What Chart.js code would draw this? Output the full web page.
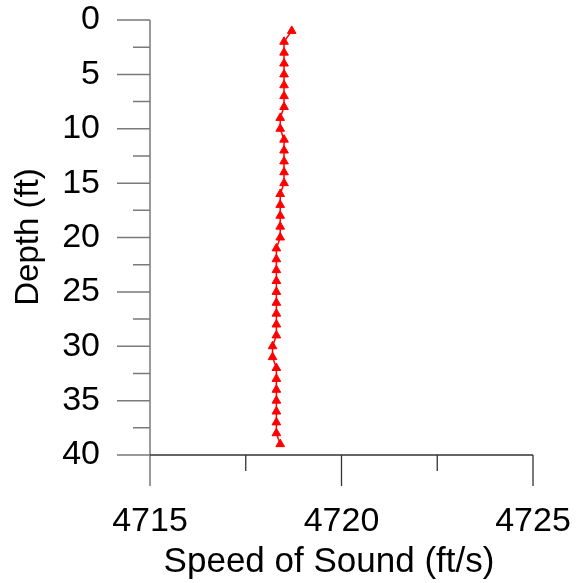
<!DOCTYPE html>
<html>
<head>
<meta charset="utf-8">
<script src="https://cdn.jsdelivr.net/npm/chart.js@4.4.1/dist/chart.umd.min.js"></script>
<style>
    html, body { margin: 0; padding: 0; background: #ffffff; }
    #chart { display: block; }
</style>
</head>
<body>
<canvas id="chart" width="581" height="583"></canvas>
<script>
// Depth profile, one reading per foot
const depths = [1, 2, 3, 4, 5, 6, 7, 8, 9, 10,
    11, 12, 13, 14, 15, 16, 17, 18, 19, 20,
    21, 22, 23, 24, 25, 26, 27, 28, 29, 30,
    31, 32, 33, 34, 35, 36, 37, 38, 39];
const speeds = [4718.7, 4718.5, 4718.5, 4718.5, 4718.5, 4718.5, 4718.5, 4718.5, 4718.4, 4718.4,
    4718.5, 4718.5, 4718.5, 4718.5, 4718.5, 4718.4, 4718.4, 4718.4, 4718.4, 4718.4,
    4718.3, 4718.3, 4718.3, 4718.3, 4718.3, 4718.3, 4718.3, 4718.3, 4718.3, 4718.2,
    4718.2, 4718.3, 4718.3, 4718.3, 4718.3, 4718.3, 4718.3, 4718.3, 4718.4];

const xMajorTicks = [4715, 4720, 4725];
const xMinorTicks = [4717.5, 4722.5];
const yMajorTicks = [0, 5, 10, 15, 20, 25, 30, 35, 40];
const yMinorTicks = [2.5, 7.5, 12.5, 17.5, 22.5, 27.5, 32.5, 37.5];

const xTitle = 'Speed of Sound (ft/s)';
const yTitle = 'Depth (ft)';

const FONT = '"Liberation Sans", Arial, sans-serif';

// keep the plot box fixed: the tick padding would otherwise shrink it
function fixPadding(scale) {
    scale.paddingTop = 0;
    scale.paddingBottom = 0;
    scale.paddingLeft = 0;
    scale.paddingRight = 0;
}

// Axis lines, tick marks and titles drawn against the chart's own scales
const axesPlugin = {
    id: 'axesPlugin',
    afterDraw(chart) {
        const ctx = chart.ctx;
        const xs = chart.scales.x;
        const ys = chart.scales.y;
        const left = xs.getPixelForValue(xMajorTicks[0]);
        const bottom = ys.getPixelForValue(yMajorTicks[yMajorTicks.length - 1]);

        ctx.save();

        // y axis and its ticks
        ctx.strokeStyle = '#7a7a7a';
        ctx.lineWidth = 1.5;
        ctx.beginPath();
        ctx.moveTo(left, ys.getPixelForValue(0));
        ctx.lineTo(left, bottom + 31);
        yMajorTicks.forEach(v => {
            const p = ys.getPixelForValue(v);
            ctx.moveTo(left - 33, p);
            ctx.lineTo(left, p);
        });
        yMinorTicks.forEach(v => {
            const p = ys.getPixelForValue(v);
            ctx.moveTo(left - 17, p);
            ctx.lineTo(left, p);
        });
        ctx.stroke();

        // x axis and its ticks
        ctx.strokeStyle = '#333333';
        ctx.lineWidth = 1.3;
        ctx.beginPath();
        ctx.moveTo(left, bottom);
        ctx.lineTo(xs.getPixelForValue(xMajorTicks[xMajorTicks.length - 1]), bottom);
        xMajorTicks.slice(1).forEach(v => {
            const p = xs.getPixelForValue(v);
            ctx.moveTo(p, bottom);
            ctx.lineTo(p, bottom + 31);
        });
        xMinorTicks.forEach(v => {
            const p = xs.getPixelForValue(v);
            ctx.moveTo(p, bottom);
            ctx.lineTo(p, bottom + 16);
        });
        ctx.stroke();

        // titles
        ctx.fillStyle = '#000000';
        ctx.textAlign = 'center';
        ctx.textBaseline = 'alphabetic';
        ctx.font = '35px ' + FONT;
        ctx.fillText(xTitle, 329, 572);

        ctx.translate(38, 237);
        ctx.rotate(-Math.PI / 2);
        ctx.font = '33px ' + FONT;
        ctx.fillText(yTitle, 0, 0);

        ctx.restore();
    }
};

new Chart(document.getElementById('chart'), {
    type: 'scatter',
    data: {
        datasets: [{
            data: depths.map((d, i) => ({ x: speeds[i], y: d })),
            showLine: true,
            borderColor: '#ff0000',
            borderWidth: 1.5,
            backgroundColor: '#ff0000',
            pointStyle: 'triangle',
            pointRadius: 5,
            pointBorderWidth: 1,
            pointBorderColor: '#ff0000',
            pointBackgroundColor: '#ff0000',
            tension: 0
        }]
    },
    options: {
        responsive: false,
        animation: false,
        layout: { padding: { left: 0, top: 20, right: 48, bottom: 0 } },
        plugins: {
            legend: { display: false },
            tooltip: { enabled: false }
        },
        scales: {
            x: {
                type: 'linear',
                position: 'bottom',
                min: 4715,
                max: 4725,
                afterFit: scale => { scale.height = 128; fixPadding(scale); },
                afterBuildTicks: scale => {
                    scale.ticks = xMajorTicks.map(v => ({ value: v }));
                },
                grid: { display: false, drawTicks: false },
                border: { display: false },
                ticks: {
                    color: '#000000',
                    padding: 50,
                    maxRotation: 0,
                    font: { family: FONT, size: 34, lineHeight: 1 },
                    callback: v => String(v)
                }
            },
            y: {
                type: 'linear',
                reverse: true,
                min: 0,
                max: 40,
                afterFit: scale => { scale.width = 150; fixPadding(scale); },
                afterBuildTicks: scale => {
                    scale.ticks = yMajorTicks.map(v => ({ value: v }));
                },
                grid: { display: false, drawTicks: false },
                border: { display: false },
                ticks: {
                    color: '#000000',
                    padding: 50,
                    font: { family: FONT, size: 34, lineHeight: 1 },
                    callback: v => String(v)
                }
            }
        }
    },
    plugins: [axesPlugin]
});
</script>
</body>
</html>
